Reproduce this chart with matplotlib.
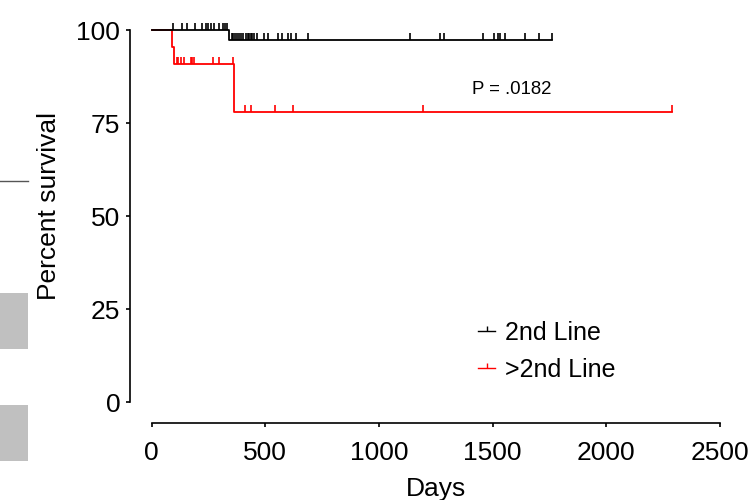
import numpy as np
import matplotlib
matplotlib.use("Agg")
import matplotlib.pyplot as plt
from matplotlib.path import Path
from matplotlib.lines import Line2D
from matplotlib.patches import Rectangle

plt.rcParams['font.family'] = ['Liberation Sans', 'DejaVu Sans']

# survival steps (days, percent survival)
line2_days = [0, 341, 1759]
line2_surv = [100.0, 97.3, 97.3]
gt2_days = [0, 91, 99, 362, 2291]
gt2_surv = [100.0, 95.5, 90.9, 78.0, 78.0]

# censored observations
line2_cens_100 = [92, 132, 154, 191, 220, 241, 248, 261, 272, 298, 312, 322, 330]
line2_cens_97 = [352, 359, 366, 376, 385, 393, 403, 415, 422, 428, 436, 443, 451,
                 462, 495, 513, 557, 572, 598, 613, 635, 686, 1136, 1268, 1285,
                 1456, 1505, 1522, 1532, 1554, 1642, 1705, 1759]
gt2_cens_91 = [110, 117, 128, 143, 171, 177, 185, 268, 296, 356]
gt2_cens_78 = [412, 438, 544, 620, 1194, 2291]

labels = ["2nd Line", ">2nd Line"]
colors = ["black", "#ff0000"]
p_text = "P = .0182"

W, H = 752, 500
fig = plt.figure(figsize=(W / 100, H / 100), dpi=100)
ax = fig.add_axes([151.7 / W, (H - 402.3) / H, 568.3 / W, 372 / H])

# upward censor tick
tick = Path([(0, 0), (0, 1)], [Path.MOVETO, Path.LINETO])

def km(days, surv, c100, c_lo, lvl_hi, lvl_lo, color):
    ax.step(days, surv, where='post', color=color, lw=1.3, clip_on=False)
    ax.plot(c100, [lvl_hi] * len(c100), ls='none', marker=tick, ms=10,
            mec=color, mfc='none', mew=1.2, clip_on=False)
    ax.plot(c_lo, [lvl_lo] * len(c_lo), ls='none', marker=tick, ms=10,
            mec=color, mfc='none', mew=1.2, clip_on=False)

km(gt2_days, gt2_surv, gt2_cens_91, gt2_cens_78, gt2_surv[2], gt2_surv[3], colors[1])
km(line2_days, line2_surv, line2_cens_100, line2_cens_97, line2_surv[0], line2_surv[1], colors[0])

ax.set_xlim(0, 2500)
ax.set_ylim(0, 100)
ax.set_xticks([0, 500, 1000, 1500, 2000, 2500])
ax.set_yticks([0, 25, 50, 75, 100])
for s in ['top', 'right']:
    ax.spines[s].set_visible(False)
ax.spines['left'].set_position(('outward', 15.6))
ax.spines['bottom'].set_position(('outward', 14.9))
for s in ['left', 'bottom']:
    ax.spines[s].set_linewidth(1.2)
ax.tick_params(axis='both', labelsize=19, width=1.2, length=3)
ax.tick_params(axis='y', pad=4)
ax.tick_params(axis='x', pad=10)

ax.text(1408, 84, p_text, fontsize=13.4, ha='left', va='center')

fig.text(49 / W, 1 - 206 / H, "Percent survival", rotation=90, fontsize=19,
         ha='center', va='center')
fig.text(436 / W, 1 - 496 / H, "Days", fontsize=19, ha='center', va='baseline')

handles = [Line2D([], [], color=c, lw=1.0, marker=tick, ms=7, mec=c, mfc='none', mew=1.0)
           for c in colors]
ax.legend(handles, labels, loc='upper left', frameon=False, fontsize=18,
          bbox_to_anchor=(478 / W, 1 - 321 / H), bbox_transform=fig.transFigure,
          borderpad=0, borderaxespad=0, handlelength=0.7, handletextpad=0.4,
          labelspacing=0.52)

# panel edges bleeding in from the neighbouring figure
fig.add_artist(Line2D([0, 28 / W], [1 - 181 / H] * 2, color='#555555', lw=1.0,
                      transform=fig.transFigure))
for top, bot in [(293, 349), (405, 461)]:
    fig.add_artist(Rectangle((0, 1 - bot / H), 28 / W, (bot - top) / H,
                             transform=fig.transFigure, color='#c0c0c0', lw=0))

fig.savefig("out.png", dpi=100)
